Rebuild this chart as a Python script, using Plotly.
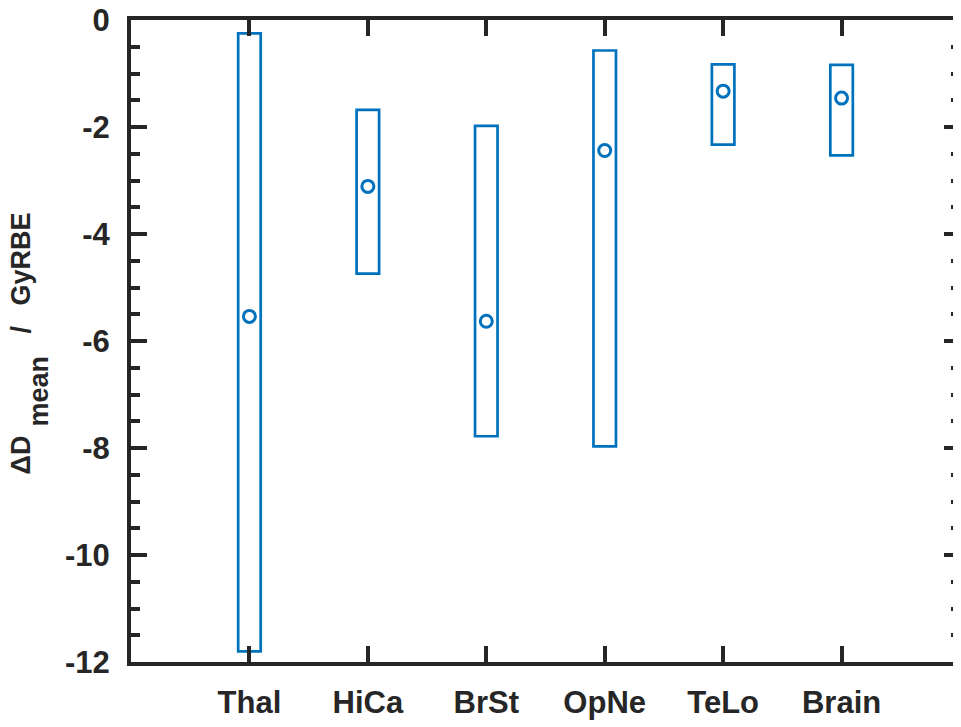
import plotly.graph_objects as go

categories = ["Thal", "HiCa", "BrSt", "OpNe", "TeLo", "Brain"]
box_top = [-0.25, -1.68, -1.98, -0.57, -0.83, -0.84]
box_bottom = [-11.80, -4.74, -7.78, -7.97, -2.33, -2.53]
center = [-5.54, -3.11, -5.63, -2.44, -1.33, -1.46]
y_ticks = [0, -2, -4, -6, -8, -10, -12]

blue = "#0072BD"
axc = "#262626"

fig = go.Figure()
fig.add_trace(go.Bar(
    x=categories,
    y=[t - b for t, b in zip(box_top, box_bottom)],
    base=box_bottom,
    width=0.19,
    marker=dict(color="rgba(0,0,0,0)", line=dict(color=blue, width=2.7)),
    hoverinfo="skip",
    showlegend=False,
))
fig.add_trace(go.Scatter(
    x=categories, y=center, mode="markers",
    marker=dict(symbol="circle-open", size=12, color=blue, line=dict(width=3, color=blue)),
    showlegend=False,
))

font_family = "Liberation Sans, Arial, sans-serif"
tickfont = dict(family=font_family, size=31, color=axc, weight="bold")
lab_font = dict(family=font_family, size=27, color=axc, weight="bold")

W, H = 961, 727
ml, mr, mt, mb = 123, 9, 12, 73
pw = W - ml - mr
ph = H - mt - mb

def px_to_paper(xpx, ypx):
    return (xpx - ml) / pw, 1 - (ypx - mt) / ph

# y-axis label pieces: text and approximate centre in pixels
label_parts = [("ΔD", 24, 451), ("mean", 42, 387), ("/", 24, 326), ("GyRBE", 24, 255)]
annotations = []
for txt, cx, cy in label_parts:
    px, py = px_to_paper(cx - 11.5, cy - 4)
    annotations.append(dict(
        text=txt, xref="paper", yref="paper", x=px, y=py,
        xanchor="center", yanchor="middle", textangle=-90, showarrow=False,
        font=lab_font,
    ))

fig.update_layout(
    width=W, height=H,
    margin=dict(l=ml, r=mr, t=mt, b=mb),
    plot_bgcolor="white", paper_bgcolor="white",
    font=dict(family=font_family, color=axc, size=22),
    xaxis=dict(
        type="category", categoryorder="array", categoryarray=categories,
        range=[-1, 6], automargin=False,
        showline=True, linecolor=axc, linewidth=4, mirror="ticks",
        ticks="inside", ticklen=16, tickwidth=4, tickcolor=axc,
        showgrid=False, zeroline=False,
        tickfont=tickfont, ticklabelstandoff=10, ticklabeloverflow="allow",
    ),
    yaxis=dict(
        range=[-12, 0], automargin=False,
        tickvals=y_ticks, ticktext=[str(v) for v in y_ticks],
        showline=True, linecolor=axc, linewidth=4, mirror="ticks",
        ticks="inside", ticklen=16, tickwidth=4, tickcolor=axc,
        minor=dict(dtick=0.5, ticks="inside", ticklen=9, tickwidth=4, tickcolor=axc, showgrid=False),
        showgrid=False, zeroline=False,
        tickfont=tickfont, ticklabelstandoff=11, ticklabeloverflow="allow",
    ),
    annotations=annotations,
)

fig.write_html("out.html")
